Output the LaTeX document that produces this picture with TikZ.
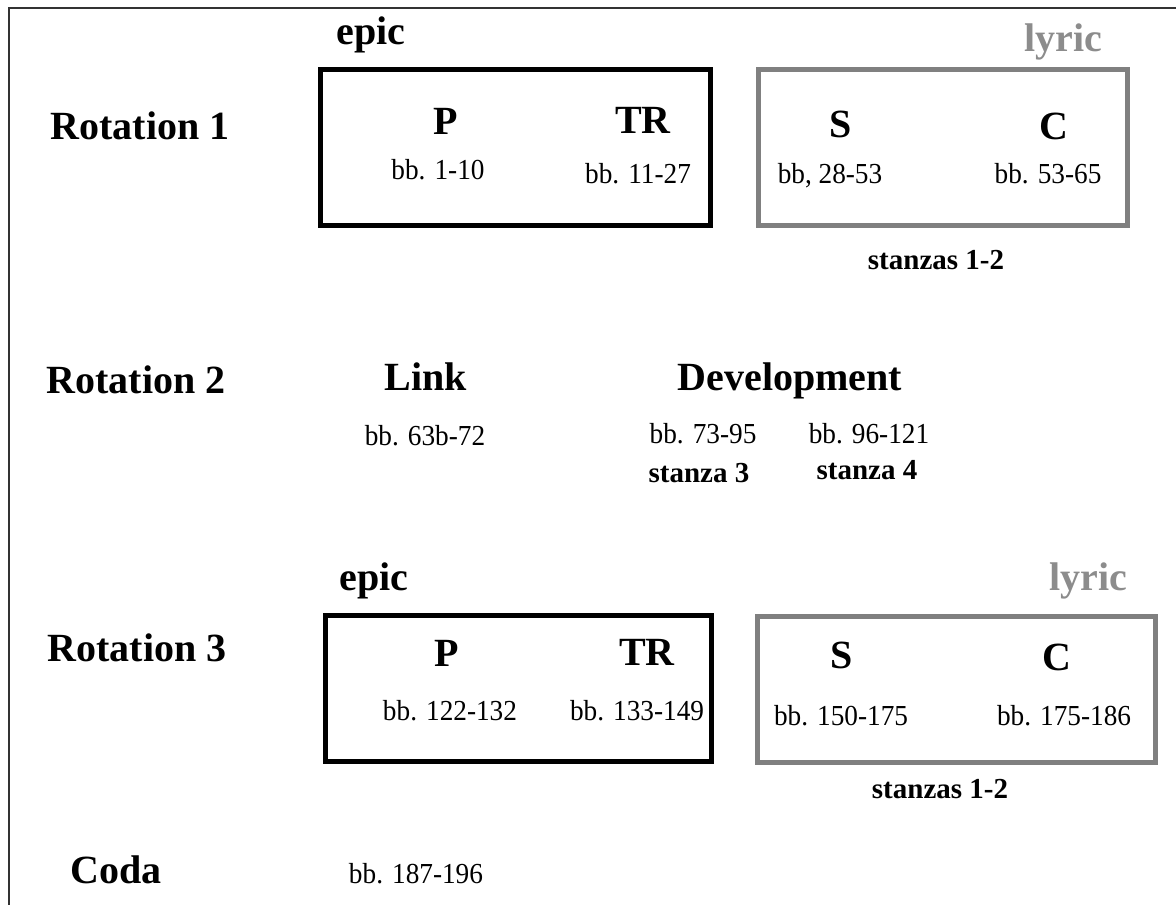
\documentclass[tikz,border=0pt]{standalone}
\usepackage{fontspec}
\setmainfont{Liberation Serif}
\newfontfamily\narrowserif[FakeStretch=0.94]{Liberation Serif}
\definecolor{boxgray}{RGB}{128,128,128}
\definecolor{lyricgray}{RGB}{140,140,140}
\definecolor{framegray}{RGB}{50,50,50}
\begin{document}
\begin{tikzpicture}[x=0.75pt,y=-0.75pt,
  every node/.style={inner sep=0pt,outer sep=0pt,anchor=base},
  big/.style={font=\fontsize{30}{34}\selectfont\bfseries},
  mid/.style={font=\fontsize{21.75}{26}\selectfont\bfseries},
  bars/.style={font=\narrowserif\fontsize{21.75}{26}\selectfont},
  epicbox/.style={draw=black,line width=3.75pt},
  lyricbox/.style={draw=boxgray,line width=3.75pt},
  lyriclbl/.style={big,text=lyricgray}]
\useasboundingbox (0,0) rectangle (1176,905);
\draw[framegray,line width=1.3pt] (9,905) -- (9,8) -- (1176,8);
% Rotation 1
\node[big] (r1) at (140,140) {Rotation 1};
\node[big] (epic1) at (371,45) {epic};
\node[lyriclbl] (lyric1) at (1063,52) {lyric};
\draw[epicbox] (320,70) rectangle (710,226);
\draw[lyricbox] (758,70) rectangle (1127,226);
\node[big] (p1) at (446,135) {P};
\node[big] (tr1) at (643,134) {TR};
\node[bars] (bp1) at (438,180) {bb. 1-10};
\node[bars] (btr1) at (638,184) {bb. 11-27};
\node[big] (s1) at (841,138) {S};
\node[big] (c1) at (1054,140) {C};
\node[bars] (bs1) at (830,184) {bb, 28-53};
\node[bars] (bc1) at (1048,184) {bb. 53-65};
\node[mid] (st1) at (936,270) {stanzas 1-2};
% Rotation 2
\node[big] (r2) at (136,393) {Rotation 2};
\node[big] (link) at (426,390) {Link};
\node[big] (dev) at (790,390) {Development};
\node[bars] (blink) at (425,445) {bb. 63b-72};
\node[bars] (bd1) at (703,443) {bb. 73-95};
\node[bars] (bd2) at (869,443) {bb. 96-121};
\node[mid] (sz3) at (699,482) {stanza 3};
\node[mid] (sz4) at (867,479) {stanza 4};
% Rotation 3
\node[big] (r3) at (137,661) {Rotation 3};
\node[big] (epic3) at (374,590) {epic};
\node[lyriclbl] (lyric3) at (1088,590) {lyric};
\draw[epicbox] (325,615) rectangle (711,761);
\draw[lyricbox] (757,616) rectangle (1155,762);
\node[big] (p3) at (447,666) {P};
\node[big] (tr3) at (647,665) {TR};
\node[bars] (bp3) at (450,720) {bb. 122-132};
\node[bars] (btr3) at (637,720) {bb. 133-149};
\node[big] (s3) at (842,668) {S};
\node[big] (c3) at (1057,670) {C};
\node[bars] (bs3) at (841,725) {bb. 150-175};
\node[bars] (bc3) at (1064,725) {bb. 175-186};
\node[mid] (st3) at (940,798) {stanzas 1-2};
% Coda
\node[big] (coda) at (116,883) {Coda};
\node[bars] (bcoda) at (416,883) {bb. 187-196};
\end{tikzpicture}
\end{document}
